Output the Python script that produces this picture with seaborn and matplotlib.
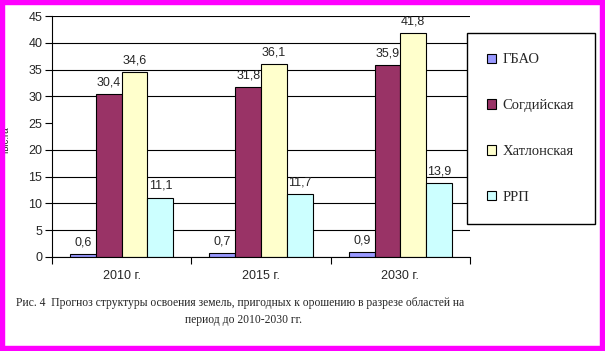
import numpy as np
import pandas as pd
import matplotlib
matplotlib.use('Agg')
from matplotlib import pyplot as plt
from matplotlib.patches import Rectangle
import seaborn as sns

# data
years = ['2010 г.', '2015 г.', '2030 г.']
regions = ['ГБАО', 'Согдийская', 'Хатлонская', 'РРП']
gbao = [0.6, 0.7, 0.9]
sogd = [30.4, 31.8, 35.9]
khatlon = [34.6, 36.1, 41.8]
rrp = [11.1, 11.7, 13.9]
colors = ['#9999FF', '#993366', '#FFFFCC', '#CCFFFF']
yticks = [0, 5, 10, 15, 20, 25, 30, 35, 40, 45]
caption1 = 'Рис. 4  Прогноз структуры освоения земель, пригодных к орошению в разрезе областей на'
caption2 = 'период до 2010-2030 гг.'

df = pd.DataFrame({
    'year': years * 4,
    'region': np.repeat(regions, len(years)),
    'value': gbao + sogd + khatlon + rrp,
})

sns.set_style('white')
plt.rcParams['font.family'] = ['Liberation Sans', 'DejaVu Sans']

fig = plt.figure(figsize=(6.05, 3.51), dpi=100)
ax = fig.add_axes([0.086, 0.268, 0.691, 0.686])
sns.barplot(data=df, x='year', y='value', hue='region', palette=colors,
            saturation=1, edgecolor='black', linewidth=0.8, width=0.74,
            errorbar=None, ax=ax)

for c in ax.containers:
    ax.bar_label(c, labels=[f'{v:.1f}'.replace('.', ',') for v in c.datavalues],
                 padding=4, fontsize=9)

ax.set_xlim(-0.5, 2.5)
ax.set_ylim(0, 45)
ax.set_yticks(yticks)
ax.set_xlabel('')
ax.set_ylabel('')
ax.set_xticks([-0.5, 0.5, 1.5, 2.5], minor=True)
ax.tick_params(axis='x', which='major', bottom=True, length=0, pad=9.5, labelsize=9)
ax.tick_params(axis='x', which='minor', bottom=True, length=5, width=0.8,
               color='black', direction='out')
ax.tick_params(axis='y', left=True, length=5, width=0.8, color='black',
               direction='out', labelsize=9, pad=2)
for s in ['top', 'right']:
    ax.spines[s].set_visible(False)
for s in ['left', 'bottom']:
    ax.spines[s].set_color('black')
    ax.spines[s].set_linewidth(0.8)

ax.set_axisbelow(True)
ax.yaxis.grid(True, color='black', lw=0.8)
for t in ax.yaxis.get_major_ticks():
    if t.get_loc() >= 45:
        t.gridline.set_visible(False)

leg = ax.legend(loc='upper left', bbox_to_anchor=(467 / 605, 1 - 33 / 351),
                bbox_transform=fig.transFigure, frameon=True, fancybox=False,
                framealpha=1, edgecolor='black', borderpad=1.4, borderaxespad=0,
                labelspacing=2.25, handlelength=0.6, handleheight=0.6,
                handletextpad=0.45, prop={'family': 'Liberation Serif', 'size': 10.5})
leg.get_frame().set_linewidth(1)

fig.text(6 / 605, 0.6, 'тыс.га', rotation=90, fontsize=7, ha='center', va='center')
fig.text(16 / 605, 1 - 303 / 351, caption1, fontsize=8.4, family='Liberation Serif',
         ha='left', va='center')
fig.text(185 / 605, 1 - 320 / 351, caption2, fontsize=8.4, family='Liberation Serif',
         ha='left', va='center')

fig.add_artist(Rectangle((0, 0), 1, 1, transform=fig.transFigure, fill=False,
                         edgecolor='#FF00FF', lw=7.5, zorder=20))

fig.savefig('out.png', dpi=100)
